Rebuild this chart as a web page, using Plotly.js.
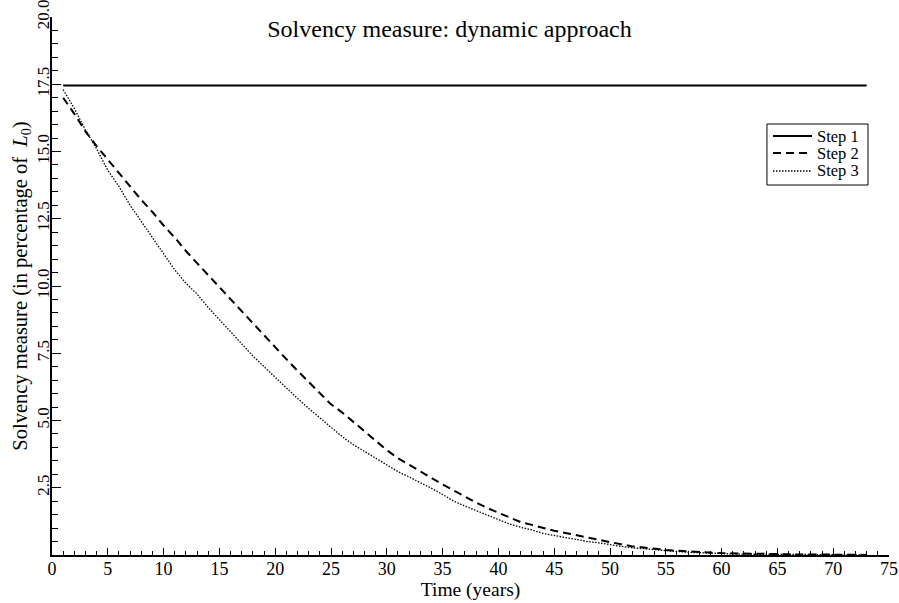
<!DOCTYPE html>
<html>
<head>
<meta charset="utf-8">
<script src="https://cdn.plot.ly/plotly-3.0.1.min.js"></script>
<style>html,body{margin:0;padding:0;background:#fff}#chart{width:899px;height:603px}</style>
</head>
<body>
<div id="chart"></div>
<script>
const years = [];
for (let t = 1; t <= 73; t++) years.push(t);

const step1 = [17.45,17.45,17.45,17.45,17.45,17.45,17.45,17.45,17.45,17.45,
  17.45,17.45,17.45,17.45,17.45,17.45,17.45,17.45,17.45,17.45,
  17.45,17.45,17.45,17.45,17.45,17.45,17.45,17.45,17.45,17.45,
  17.45,17.45,17.45,17.45,17.45,17.45,17.45,17.45,17.45,17.45,
  17.45,17.45,17.45,17.45,17.45,17.45,17.45,17.45,17.45,17.45,
  17.45,17.45,17.45,17.45,17.45,17.45,17.45,17.45,17.45,17.45,
  17.45,17.45,17.45,17.45,17.45,17.45,17.45,17.45,17.45,17.45,
  17.45,17.45,17.45];

const step2 = [17.0,16.4,15.75,15.2,14.7,14.2,13.7,13.2,12.75,12.25,
  11.8,11.3,10.85,10.4,9.95,9.5,9.05,8.6,8.15,7.7,
  7.28,6.85,6.42,6.0,5.6,5.3,4.95,4.6,4.25,3.9,
  3.6,3.35,3.1,2.85,2.62,2.4,2.17,1.95,1.75,1.58,
  1.38,1.22,1.12,1.0,0.9,0.82,0.73,0.65,0.57,0.48,
  0.4,0.32,0.28,0.23,0.19,0.16,0.13,0.11,0.09,0.07,
  0.06,0.05,0.04,0.03,0.03,0.02,0.02,0.02,0.01,0.01,
  0.01,0.01,0.0];

const step3 = [17.3,16.6,15.8,15.1,14.3,13.7,13.0,12.4,11.8,11.2,
  10.6,10.1,9.7,9.2,8.75,8.3,7.85,7.4,7.0,6.6,
  6.2,5.82,5.45,5.1,4.75,4.4,4.1,3.85,3.6,3.35,
  3.1,2.9,2.7,2.48,2.25,2.0,1.82,1.65,1.5,1.3,
  1.15,1.03,0.93,0.8,0.72,0.65,0.58,0.5,0.45,0.38,
  0.32,0.27,0.23,0.19,0.15,0.13,0.1,0.08,0.06,0.05,
  0.04,0.03,0.03,0.02,0.02,0.02,0.01,0.01,0.01,0.01,
  0.01,0.0,0.0];

const seriesNames = ["Step 1", "Step 2", "Step 3"];
const yTickVals = [2.5, 5, 7.5, 10, 12.5, 15, 17.5, 20];
const yTickText = ["2.5", "5.0", "7.5", "10.0", "12.5", "15.0", "17.5", "20.0"];

const FONT = "Liberation Serif, Times New Roman, serif";

const lineStyles = [
  {color: "#000", width: 2, dash: "solid"},
  {color: "#000", width: 2, dash: "8px,5px"},
  {color: "#000", width: 1.3, dash: "1.5px,1.5px"}
];
const seriesData = [step1, step2, step3];

const traces = seriesData.map((ys, i) => ({
  x: years, y: ys, name: seriesNames[i], mode: "lines", line: lineStyles[i], showlegend: false
}));

// Compact legend box drawn in paper coordinates (layout only)
const legX0 = 0.8542, legX1 = 0.9749, legY0 = 0.6877, legY1 = 0.8011;
const legLineX0 = 0.8614, legLineX1 = 0.9080, legTextX = 0.9130;
const legRowY = [0.7788, 0.7472, 0.7138];

const shapes = [{type: "rect", xref: "paper", yref: "paper", x0: legX0, x1: legX1, y0: legY0, y1: legY1,
  line: {color: "#000", width: 1}, fillcolor: "#fff", layer: "above"}];
const annotations = [];
seriesNames.forEach((n, i) => {
  shapes.push({type: "line", xref: "paper", yref: "paper", x0: legLineX0, x1: legLineX1, y0: legRowY[i], y1: legRowY[i],
    line: lineStyles[i], layer: "above"});
  annotations.push({xref: "paper", yref: "paper", x: legTextX, y: legRowY[i], xanchor: "left", yanchor: "middle",
    text: n, showarrow: false, font: {family: FONT, size: 16.5, color: "#000"}, borderpad: 0});
});

const layout = {
  width: 899, height: 603,
  paper_bgcolor: "#fff", plot_bgcolor: "#fff",
  margin: {l: 52, r: 10, t: 17, b: 48},
  font: {family: FONT, color: "#000", size: 17},
  title: {text: "Solvency measure: dynamic approach", font: {family: FONT, size: 24, color: "#000"},
          x: 0.5, xref: "container", xanchor: "center", y: 0.953, yref: "container", yanchor: "middle"},
  showlegend: false,
  shapes: shapes,
  annotations: annotations,
  xaxis: {
    range: [0, 75], tickmode: "linear", tick0: 0, dtick: 5,
    ticks: "inside", ticklen: 7, tickwidth: 1, tickcolor: "#000",
    minor: {ticks: "inside", ticklen: 4, tickmode: "linear", tick0: 0, dtick: 1, tickcolor: "#000", tickwidth: 1},
    showline: true, linecolor: "#000", linewidth: 1.5, mirror: false,
    showgrid: false, zeroline: false,
    ticklabelstandoff: -3, ticklabeloverflow: "allow",
    tickfont: {family: FONT, size: 18, color: "#000"},
    title: {text: "Time (years)", font: {family: FONT, size: 19.5, color: "#000"}, standoff: 0}
  },
  yaxis: {
    range: [0, 20], tickmode: "array", tickvals: yTickVals, ticktext: yTickText,
    ticks: "inside", ticklen: 9, tickwidth: 1, tickcolor: "#000",
    minor: {ticks: "inside", ticklen: 6, tickmode: "linear", tick0: 0, dtick: 0.5, tickcolor: "#000", tickwidth: 1},
    showline: true, linecolor: "#000", linewidth: 1.5, mirror: false,
    showgrid: false, zeroline: false, tickangle: -90,
    ticklabelstandoff: -6, ticklabeloverflow: "allow",
    tickfont: {family: FONT, size: 17, color: "#000"},
    title: {text: "Solvency measure (in percentage of  <i>L</i><sub>0</sub>)", font: {family: FONT, size: 20.5, color: "#000"}, standoff: 0}
  }
};

Plotly.newPlot("chart", traces, layout, {displayModeBar: false, responsive: false});
</script>
</body>
</html>
